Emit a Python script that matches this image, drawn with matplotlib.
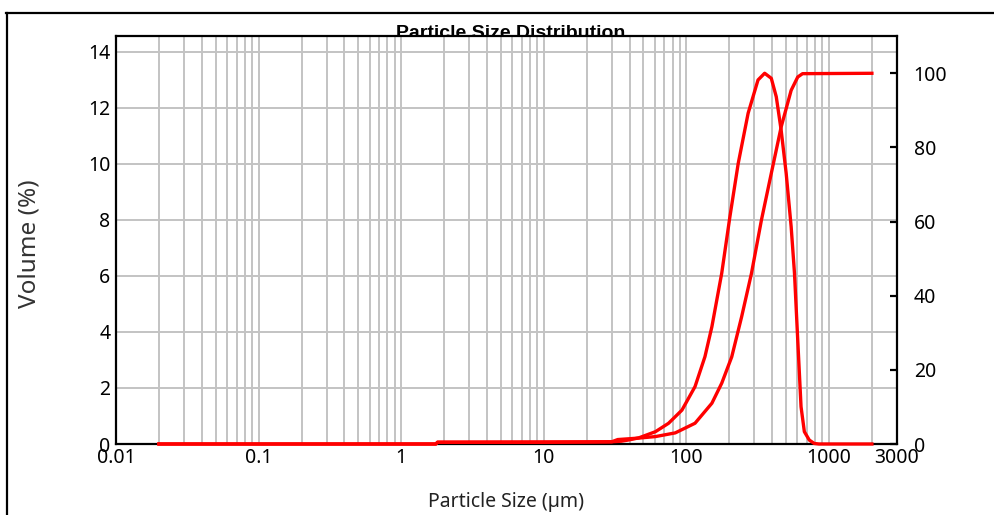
import numpy as np
import matplotlib
matplotlib.use('Agg')
import matplotlib.pyplot as plt
from matplotlib.ticker import LogLocator, NullFormatter
from matplotlib.lines import Line2D

plt.rcParams['font.family'] = ['Noto Sans', 'DejaVu Sans']

# volume density curve (left axis), sizes in um
size_vol = [0.02, 1.75, 1.8, 10, 20, 30, 35, 40, 46.4, 60.7, 75, 93.1, 115, 135,
            151, 177, 202, 231, 271, 318, 354, 394, 427, 462, 501, 543, 573, 604,
            637, 672, 728, 788, 850, 2000]
volume = [0, 0, 0.06, 0.06, 0.07, 0.08, 0.1, 0.15, 0.22, 0.44, 0.74, 1.21, 2.05, 3.12,
          4.19, 6.10, 8.12, 10.02, 11.81, 13.0, 13.24, 13.06, 12.4, 11.21, 9.67, 7.76, 6.10, 3.71,
          1.33, 0.44, 0.14, 0.02, 0, 0]

# cumulative curve (right axis)
size_cum = [0.02, 1.75, 1.8, 30, 33, 46.4, 60.7, 83.6, 115, 151, 177, 208, 244, 286,
            336, 394, 462, 543, 604, 653, 2000]
cumulative = [0, 0, 0.5, 0.6, 1.2, 1.6, 2.0, 3.0, 5.6, 11.0, 16.4, 23.5, 34.3, 46.0,
              60.4, 73.0, 85.5, 95.4, 99.0, 99.9, 100]

xticks = [0.01, 0.1, 1, 10, 100, 1000, 3000]
xtick_labels = ['0.01', '0.1', '1', '10', '100', '1000', '3000']
left_ticks = [0, 2, 4, 6, 8, 10, 12, 14]
right_ticks = [0, 20, 40, 60, 80, 100]

W, H = 995, 515
fig = plt.figure(figsize=(W / 100, H / 100), dpi=100)
ax = fig.add_axes([116 / W, 1 - 444 / H, (897 - 116) / W, (444 - 36) / H])

ax.set_xscale('log')
ax.set_xlim(0.01, 3000)
ax.set_ylim(0, 14.57)
ax.set_xticks(xticks, xtick_labels)
ax.xaxis.set_minor_locator(LogLocator(base=10, subs=np.arange(2, 10)))
ax.xaxis.set_minor_formatter(NullFormatter())
ax.set_yticks(left_ticks)
ax.grid(True, which='both', axis='x', color='#c3c3c3', lw=1.4)
ax.grid(True, which='major', axis='y', color='#c3c3c3', lw=1.4)
ax.set_axisbelow(True)
ax.tick_params(axis='both', which='both', length=0, labelsize=14)
ax.tick_params(axis='x', pad=3)
ax.tick_params(axis='y', pad=4)
for s in ax.spines.values():
    s.set_linewidth(1.6)

ax.plot(size_vol, volume, color='#ff0000', lw=2.4, clip_on=False, zorder=3)

ax2 = ax.twinx()
ax2.set_ylim(0, 110.06)
ax2.set_yticks(right_ticks)
ax2.tick_params(axis='y', direction='in', length=5, width=1.6, pad=12, labelsize=14)
for s in ax2.spines.values():
    s.set_visible(False)
ax2.plot(size_cum, cumulative, color='#ff0000', lw=2.4, clip_on=False, zorder=3)

ax.set_ylabel('Volume (%)', fontsize=17.5, color='#333333')
ax.yaxis.set_label_coords(-0.095, 0.49)
ax.set_xlabel('Particle Size (µm)', fontsize=14, color='#222222')
ax.xaxis.set_label_coords(0.5, -0.1176)

# title sits partly behind the plot area, as in the original
fig.text(511 / W, 1 - 38 / H, 'Particle Size Distribution', ha='center', va='baseline',
         fontsize=14, fontweight='bold', family=['Liberation Sans', 'DejaVu Sans'], zorder=-1)

# outer frame (top and left edges)
fig.add_artist(Line2D([6 / W, 1], [1 - 13 / H] * 2, transform=fig.transFigure, color='k', lw=1.6))
fig.add_artist(Line2D([7 / W] * 2, [0, 1 - 13 / H], transform=fig.transFigure, color='k', lw=1.6))

fig.savefig('out.png', dpi=100)
